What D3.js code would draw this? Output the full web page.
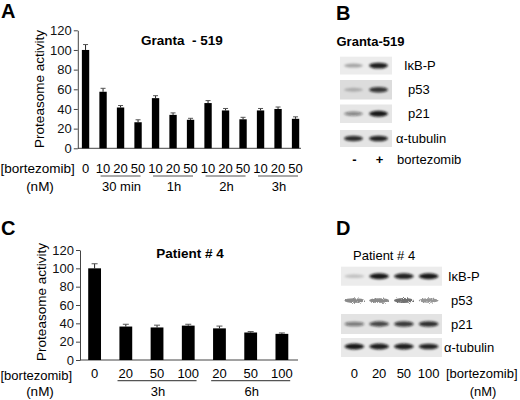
<!DOCTYPE html>
<html>
<head>
<meta charset="utf-8">
<script src="https://cdn.jsdelivr.net/npm/d3@7"></script>
<style>
  body { margin: 0; background: #fff; }
  svg { display: block; font-family: "Liberation Sans", Arial, sans-serif; }
  .tick text { font-size: 13px; fill: #111; }
  .tick line, .domain { stroke: #444; }
</style>
</head>
<body>
<svg id="fig" width="520" height="400"></svg>
<script>
// panel A: Granta-519 proteasome activity
const aDoses = ["0", "10", "20", "50", "10", "20", "50", "10", "20", "50", "10", "20", "50"];
const aValues = [100, 57.5, 41.5, 26.5, 51, 34, 29, 46, 38.5, 29.5, 38.5, 40, 30];
const aErrors = [5.5, 3.5, 2, 2.5, 2.5, 2, 1.5, 2.5, 2, 2, 2, 2, 2];
const aGroupLabels = ["30 min", "1h", "2h", "3h"];
const aGroupSpans = [[1, 3], [4, 6], [7, 9], [10, 12]];

// panel C: patient #4 proteasome activity
const cDoses = ["0", "20", "50", "100", "20", "50", "100"];
const cValues = [100, 36.5, 35.5, 37.5, 34.5, 30, 28.5];
const cErrors = [5, 2.5, 2.5, 1.5, 2.5, 1, 1];
const cGroupLabels = ["3h", "6h"];
const cGroupSpans = [[1, 3], [4, 6]];

const yTicks = [0, 20, 40, 60, 80, 100, 120];

// panels B and D: western blots, band intensity 0..1 per lane
const blotProteins = ["IκB-P", "p53", "p21", "α-tubulin"];
const bLanes = ["-", "+"];
const bBands = [[0.3, 0.92], [0.22, 0.82], [0.45, 0.95], [0.85, 0.9]];
const dLanes = ["0", "20", "50", "100"];
const dBands = [[0.18, 0.95, 0.9, 0.95], [0.5, 0.5, 0.6, 0.45], [0.5, 0.75, 0.8, 0.85], [0.95, 0.92, 0.92, 0.9]];

const svg = d3.select("#fig");

const defs = svg.append("defs");
defs.append("filter").attr("id", "blur")
    .attr("x", "-50%").attr("y", "-100%").attr("width", "200%").attr("height", "300%")
    .append("feGaussianBlur").attr("stdDeviation", "1.1 0.9");
const grainy = defs.append("filter").attr("id", "grain")
    .attr("x", "-30%").attr("y", "-150%").attr("width", "160%").attr("height", "400%");
grainy.append("feTurbulence").attr("type", "fractalNoise").attr("baseFrequency", "0.9")
    .attr("numOctaves", 2).attr("seed", 3).attr("result", "noise");
grainy.append("feDisplacementMap").attr("in", "SourceGraphic").attr("in2", "noise")
    .attr("scale", 4).attr("result", "disp");
grainy.append("feGaussianBlur").attr("in", "disp").attr("stdDeviation", "0.5");

const panelLetter = (letter, x, y) => svg.append("text")
    .attr("x", x).attr("y", y)
    .attr("font-size", 20).attr("font-weight", "bold")
    .text(letter);

const drawBars = function(o) {
    const g = svg.append("g");
    const x = d3.scaleBand()
        .domain(d3.range(o.values.length))
        .range(o.xRange)
        .paddingInner(o.pad).paddingOuter(o.pad / 2);
    const y = d3.scaleLinear().domain([0, 120]).range(o.yRange);
    const axisY = d3.axisLeft(y).tickValues(yTicks).tickSize(4).tickPadding(2).tickSizeOuter(0);
    g.append("g")
        .attr("transform", `translate(${o.xRange[0] + 1},0)`)
        .call(axisY);
    g.append("line")
        .attr("x1", o.xRange[0] + 1).attr("x2", o.axisEnd)
        .attr("y1", y(0)).attr("y2", y(0))
        .attr("stroke", "#444");

    // error bars drawn behind bars
    g.append("g").selectAll("g")
        .data(o.values.map((v, i) => ({v: v, e: o.errors[i], i: i})))
        .join("g")
        .each(function(d) {
            const cx = x(d.i) + x.bandwidth() / 2;
            const sel = d3.select(this);
            sel.append("line")
                .attr("x1", cx).attr("x2", cx)
                .attr("y1", y(d.v)).attr("y2", y(d.v + d.e))
                .attr("stroke", "#222");
            sel.append("line")
                .attr("x1", cx - o.cap).attr("x2", cx + o.cap)
                .attr("y1", y(d.v + d.e)).attr("y2", y(d.v + d.e))
                .attr("stroke", "#555");
        });
    g.append("g").selectAll("rect")
        .data(o.values)
        .join("rect")
            .attr("x", (d, i) => x(i))
            .attr("y", d => y(d))
            .attr("width", x.bandwidth())
            .attr("height", d => y(0) - y(d))
            .attr("fill", "#000");

    g.append("g").selectAll("text")
        .data(o.doses)
        .join("text")
            .attr("x", (d, i) => x(i) + x.bandwidth() / 2)
            .attr("y", o.doseY)
            .attr("text-anchor", "middle")
            .attr("font-size", 13)
            .text(d => d);

    o.groupSpans.forEach((s, k) => {
        const c0 = x(s[0]) + x.bandwidth() / 2;
        const c1 = x(s[1]) + x.bandwidth() / 2;
        g.append("line")
            .attr("x1", c0 - o.over).attr("x2", c1 + o.over)
            .attr("y1", o.lineY).attr("y2", o.lineY)
            .attr("stroke", "#555").attr("stroke-width", 1.2);
        g.append("text")
            .attr("x", (c0 + c1) / 2 + 1).attr("y", o.groupY)
            .attr("text-anchor", "middle").attr("font-size", 13)
            .text(o.groupLabels[k]);
    });

    g.append("text")
        .attr("transform", `translate(${o.yLabel[0]},${o.yLabel[1]}) rotate(-90)`)
        .attr("text-anchor", "middle").attr("dy", "0.35em")
        .attr("font-size", 13.5)
        .text("Proteasome activity");
    g.append("text")
        .attr("x", o.titlePos[0]).attr("y", o.titlePos[1])
        .attr("text-anchor", "middle").attr("font-size", 13.5).attr("font-weight", "bold")
        .style("white-space", "pre")
        .text(o.title);
    g.append("text")
        .attr("x", 0.5).attr("y", o.doseY + o.brDy)
        .attr("font-size", o.brSize)
        .text("[bortezomib]");
    g.append("text")
        .attr("x", 40).attr("y", o.groupY)
        .attr("text-anchor", "middle").attr("font-size", 13.5)
        .text("(nM)");
};

const drawBlot = function(o) {
    const g = svg.append("g");
    const x = d3.scaleBand().domain(o.lanes).range(o.xRange);
    const ink = d3.scaleLinear().domain([0, 1]).range([0, 1]);
    o.bands.forEach((row, r) => {
        const [y0, y1] = o.rows[r];
        if (o.bg[r]) {
            g.append("rect")
                .attr("x", o.xRange[0] - 1).attr("y", y0)
                .attr("width", o.xRange[1] - o.xRange[0] + 2).attr("height", y1 - y0)
                .attr("fill", o.bg[r]);
        }
        g.append("g")
            .attr("filter", o.grain[r] ? "url(#grain)" : "url(#blur)")
            .selectAll("ellipse")
            .data(row)
            .join("ellipse")
                .attr("cx", (d, i) => x(o.lanes[i]) + x.bandwidth() / 2)
                .attr("cy", (y0 + y1) / 2 + o.bandShift[r])
                .attr("rx", x.bandwidth() * o.bandW)
                .attr("ry", d => 1.6 + 1.4 * d)
                .attr("fill", "#111")
                .attr("fill-opacity", d => ink(d));
        g.append("text")
            .attr("x", o.labelX[r]).attr("y", (y0 + y1) / 2)
            .attr("dy", "0.35em").attr("font-size", 13)
            .text(blotProteins[r]);
    });
    g.append("g").selectAll("text")
        .data(o.lanes)
        .join("text")
            .attr("x", d => x(d) + x.bandwidth() / 2 + o.laneShift)
            .attr("y", o.laneY).attr("dy", "0.35em")
            .attr("text-anchor", "middle").attr("font-size", 13)
            .attr("font-weight", o.laneBold ? "bold" : null)
            .text(d => d);
};

// A
panelLetter("A", 1, 18);
drawBars({
    values: aValues, errors: aErrors, doses: aDoses,
    groupLabels: aGroupLabels, groupSpans: aGroupSpans,
    xRange: [76.8, 304.3], axisEnd: 301, yRange: [148.3, 30.3], pad: 0.58, cap: 2.5,
    doseY: 172.5, lineY: 176, groupY: 190.5, over: 2.5, brDy: 0.5, brSize: 13.5,
    yLabel: [39.5, 89], titlePos: [182, 44.5], title: "Granta  - 519"
});

// C
panelLetter("C", 1, 235);
drawBars({
    values: cValues, errors: cErrors, doses: cDoses,
    groupLabels: cGroupLabels, groupSpans: cGroupSpans,
    xRange: [79, 297.5], axisEnd: 298, yRange: [360, 250], pad: 0.59, cap: 3,
    doseY: 377.5, lineY: 380.7, groupY: 396, over: 8.3, brDy: 2, brSize: 13,
    yLabel: [41, 302], titlePos: [190, 258], title: "Patient # 4"
});

// B
panelLetter("B", 336, 20);
svg.append("text").attr("x", 336.5).attr("y", 46)
    .attr("font-size", 13).attr("font-weight", "bold").text("Granta-519");
drawBlot({
    lanes: bLanes, bands: bBands, xRange: [341, 391],
    rows: [[56.7, 74.5], [80, 99.5], [104.5, 123], [130, 147]],
    bg: ["#ececec", "#dcdcdc", "#e6e6e6", "#e4e4e4"],
    grain: [false, false, false, false],
    bandShift: [0, 0, 0, 0], bandW: 0.38,
    labelX: [404, 408, 408, 396], laneY: 159.5, laneShift: 1, laneBold: true
});
svg.append("text").attr("x", 397).attr("y", 159.5).attr("dy", "0.35em")
    .attr("font-size", 13).text("bortezomib");

// D
panelLetter("D", 336, 235);
svg.append("text").attr("x", 353).attr("y", 255).attr("dy", "0.35em")
    .attr("font-size", 13).text("Patient # 4");
drawBlot({
    lanes: dLanes, bands: dBands, xRange: [342, 441],
    rows: [[266.7, 285.7], [293, 308], [314, 334], [338, 357]],
    bg: ["#ececec", null, "#e3e3e3", "#e9e9e9"],
    grain: [false, true, false, false],
    bandShift: [0, 0, 0, -1], bandW: 0.4,
    labelX: [448, 451, 451, 444], laneY: 373.3, laneShift: 0, laneBold: false
});
svg.append("text").attr("x", 446).attr("y", 373.3).attr("dy", "0.35em")
    .attr("font-size", 13).text("[bortezomib]");
svg.append("text").attr("x", 483).attr("y", 391).attr("dy", "0.35em")
    .attr("text-anchor", "middle").attr("font-size", 13).text("(nM)");
</script>
</body>
</html>
